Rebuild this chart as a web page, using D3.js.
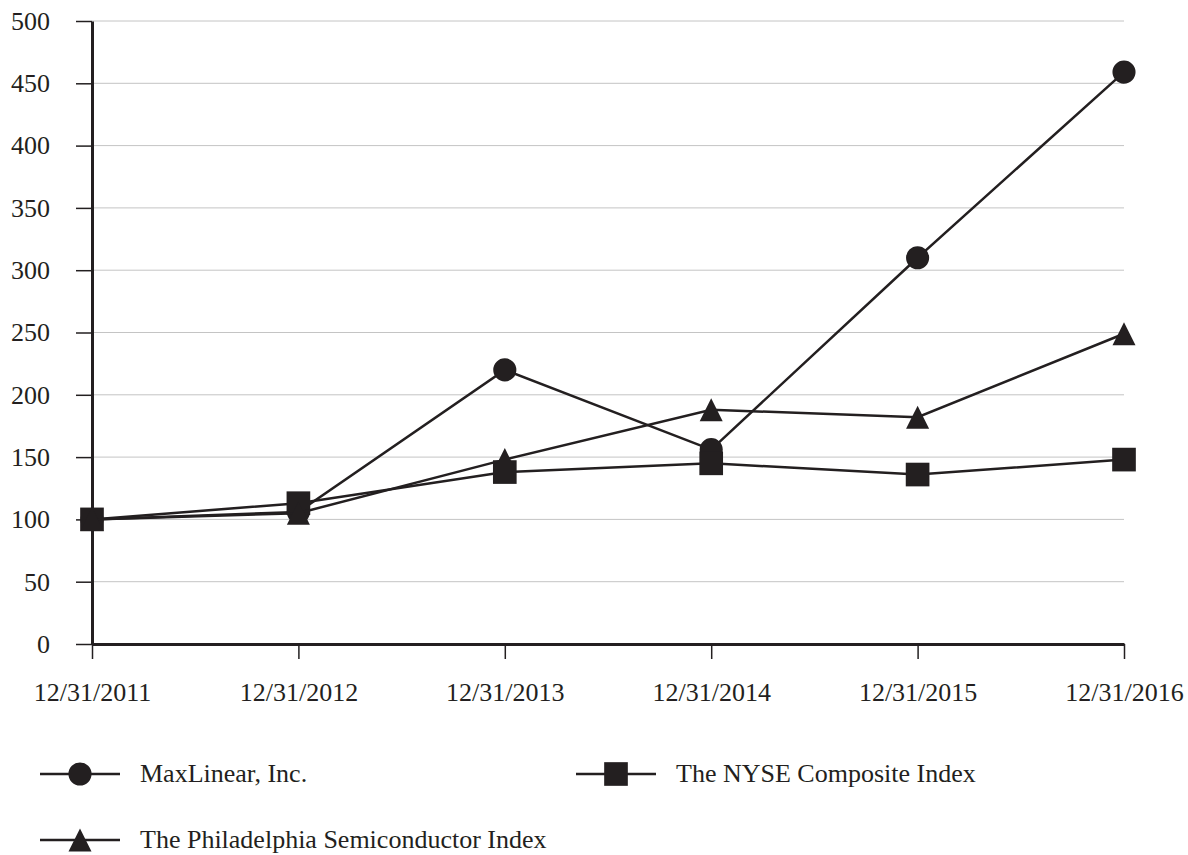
<!DOCTYPE html>
<html>
<head>
<meta charset="utf-8">
<script src="https://cdn.jsdelivr.net/npm/d3@7"></script>
<style>
  body { margin: 0; background: #fff; }
  text { font-family: "Liberation Serif", "DejaVu Serif", serif; fill: #231f20; }
</style>
</head>
<body>
<script>
// data
var dates = ["12/31/2011", "12/31/2012", "12/31/2013", "12/31/2014", "12/31/2015", "12/31/2016"];
var maxlinear = [100, 106, 220, 156, 310, 459];
var nyse = [100, 113, 138, 145, 136, 148];
var sox = [100, 105, 148, 188, 182, 249];
var yTicks = [0, 50, 100, 150, 200, 250, 300, 350, 400, 450, 500];

// triangle 23 wide, 23 tall, centred on the point
var tallTriangle = {
    draw: function (context, size) {
        var h = Math.sqrt(size) / 2;
        context.moveTo(0, -h);
        context.lineTo(h, h);
        context.lineTo(-h, h);
        context.closePath();
    }
};

var series = [
    { name: "MaxLinear, Inc.", values: maxlinear, shape: d3.symbolCircle, size: 420 },
    { name: "The NYSE Composite Index", values: nyse, shape: d3.symbolSquare, size: 560 },
    { name: "The Philadelphia Semiconductor Index", values: sox, shape: tallTriangle, size: 530 }
];

var width = 1188, height = 855;
var ink = "#231f20";

var svg = d3.select("body")
    .append("svg")
    .attr("width", width)
    .attr("height", height);

var x = d3.scalePoint()
    .domain(dates)
    .range([92, 1124]);

var y = d3.scaleLinear()
    .domain([0, 500])
    .range([644, 21]);

// gridlines
svg.append("g")
    .selectAll("line")
    .data(yTicks.slice(1))
    .enter()
    .append("line")
    .attr("x1", 92)
    .attr("x2", 1124)
    .attr("y1", function (d) { return y(d); })
    .attr("y2", function (d) { return y(d); })
    .attr("stroke", "#c4c4c4")
    .attr("stroke-width", 1);

// y axis
var yAxis = svg.append("g")
    .attr("transform", "translate(92,0)")
    .call(d3.axisLeft(y).tickValues(yTicks).tickSize(16).tickPadding(26).tickSizeOuter(0));
yAxis.select(".domain").attr("stroke", ink).attr("stroke-width", 3);
yAxis.selectAll(".tick line").attr("stroke", ink).attr("stroke-width", 1.5);
yAxis.selectAll(".tick text")
    .style("font-family", "Liberation Serif")
    .style("font-size", "26px")
    .attr("fill", ink);

// x axis
var xAxis = svg.append("g")
    .attr("transform", "translate(0,644)")
    .call(d3.axisBottom(x).tickSize(15).tickPadding(24).tickSizeOuter(0));
xAxis.select(".domain").attr("stroke", ink).attr("stroke-width", 3);
xAxis.selectAll(".tick line").attr("stroke", ink).attr("stroke-width", 1.5);
xAxis.selectAll(".tick text")
    .style("font-family", "Liberation Serif")
    .style("font-size", "26px")
    .attr("fill", ink);

var line = d3.line()
    .x(function (d, i) { return x(dates[i]); })
    .y(function (d) { return y(d); });

series.forEach(function (s) {
    svg.append("path")
        .datum(s.values)
        .attr("fill", "none")
        .attr("stroke", ink)
        .attr("stroke-width", 2.5)
        .attr("d", line);

    svg.append("g")
        .selectAll("path")
        .data(s.values)
        .enter()
        .append("path")
        .attr("transform", function (d, i) {
            return "translate(" + x(dates[i]) + "," + y(d) + ")";
        })
        .attr("d", d3.symbol().type(s.shape).size(s.size))
        .attr("fill", ink);
});

// legend
var legendPos = [
    { lx: 40, ly: 774 },
    { lx: 576, ly: 774 },
    { lx: 40, ly: 840 }
];

series.forEach(function (s, i) {
    var p = legendPos[i];
    var g = svg.append("g").attr("transform", "translate(" + p.lx + "," + p.ly + ")");
    g.append("line")
        .attr("x1", 0).attr("x2", 80)
        .attr("y1", 0).attr("y2", 0)
        .attr("stroke", ink)
        .attr("stroke-width", 2.5);
    g.append("path")
        .attr("transform", "translate(40,0)")
        .attr("d", d3.symbol().type(s.shape).size(s.size))
        .attr("fill", ink);
    g.append("text")
        .attr("x", 100)
        .attr("y", 0)
        .attr("dy", "0.3em")
        .style("font-size", "26px")
        .text(s.name);
});
</script>
</body>
</html>
